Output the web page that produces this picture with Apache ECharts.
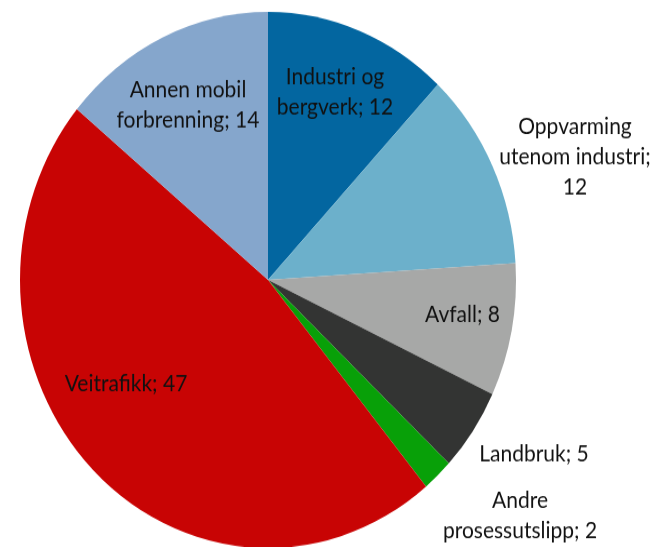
<!DOCTYPE html>
<html>
<head>
<meta charset="utf-8">
<script src="https://cdn.jsdelivr.net/npm/echarts@6/dist/echarts.min.js"></script>
<style>
html,body{margin:0;padding:0;background:#fff;width:656px;height:547px;}
#wrap{width:656px;height:547px;position:relative;}
#c{position:absolute;left:0;top:0;width:656px;height:506px;transform:scaleY(1.0806);transform-origin:0 0;}
</style>
</head>
<body>
<div id="wrap"><div id="c"></div></div>
<script>
const categories = ["Industri og\nbergverk", "Oppvarming\nutenom industri", "Avfall", "Landbruk", "Andre\nprosessutslipp", "Veitrafikk", "Annen mobil\nforbrenning"];
const values = [12, 12, 8, 5, 2, 47, 14];

// styling / layout (not data)
const colors = ["#0366a0", "#6cb0cb", "#a7a8a7", "#333433", "#08a008", "#c80404", "#85a6cc"];
const breakBeforeValue = [false, true, false, false, false, false, false];
const labelSpots = [[335, 85.1], [575, 145.3], [462.5, 291.5], [534, 420.1], [520, 477.5], [126, 355.4], [188, 97.2]];

const chart = echarts.init(document.getElementById('c'), null, {renderer: 'canvas'});
chart.setOption({
  animation: false,
  series: [{
    type: 'pie',
    center: [268, 259.1],
    radius: 248,
    startAngle: 90,
    clockwise: true,
    avoidLabelOverlap: false,
    data: categories.map((n, i) => ({
      name: n,
      value: values[i],
      itemStyle: {color: colors[i]}
    })),
    itemStyle: {borderWidth: 0},
    emphasis: {disabled: true},
    label: {
      show: true,
      position: 'inside',
      color: '#111',
      fontFamily: 'Lato',
      fontSize: 21,
      lineHeight: 28,
      align: 'center',
      formatter: p => p.name + ';' + (breakBeforeValue[p.dataIndex] ? '\n' : ' ') + p.value
    },
    labelLine: {show: false},
    labelLayout: p => ({
      x: labelSpots[p.dataIndex][0],
      y: labelSpots[p.dataIndex][1],
      align: 'center',
      verticalAlign: 'middle'
    })
  }]
});
</script>
</body>
</html>
